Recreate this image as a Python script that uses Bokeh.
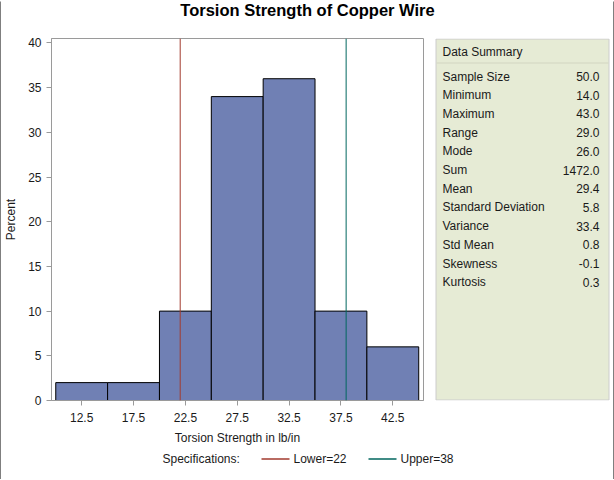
from bokeh.plotting import figure
from bokeh.layouts import column, row
from bokeh.models import Span, FixedTicker, Range1d
from bokeh.core.properties import value
from bokeh.embed import file_html
from bokeh.resources import INLINE

# ---- data ----
bin_midpoints = [12.5, 17.5, 22.5, 27.5, 32.5, 37.5, 42.5]
percents = [2, 2, 10, 34, 36, 10, 6]
bin_width = 5.0
lower_spec = 22
upper_spec = 38
y_ticks = [0, 5, 10, 15, 20, 25, 30, 35, 40]
summary_labels = ["Sample Size", "Minimum", "Maximum", "Range", "Mode", "Sum",
                  "Mean", "Standard Deviation", "Variance", "Std Mean",
                  "Skewness", "Kurtosis"]
summary_values = ["50.0", "14.0", "43.0", "29.0", "26.0", "1472.0",
                  "29.4", "5.8", "33.4", "0.8", "-0.1", "0.3"]

FONT = "Liberation Sans"
TXT = "#1a1a1a"
AX = "#9a9a9a"
LOWER_COL = "#A23A2E"
UPPER_COL = "#01665E"

# borders of the middle row (shared by histogram and summary panel)
B_TOP, B_BOTTOM = 10, 50
ROW_Y0 = 28            # canvas y where middle row starts
ROW_H = 422


def blank(w, h, fill="white", xr=None, yr=None, bt=0, bb=0):
    f = figure(width=w, height=h, output_backend="svg", toolbar_location=None,
               x_range=xr or Range1d(0, w), y_range=yr or Range1d(h, 0),
               x_axis_location=None, y_axis_location=None,
               min_border_left=0, min_border_right=0,
               min_border_top=bt, min_border_bottom=bb)
    f.grid.visible = False
    f.outline_line_color = None
    f.background_fill_color = fill
    f.border_fill_color = fill
    return f


# ---- border strips ----
top_strip = blank(614, 1, "black")
bottom_strip = blank(614, 1, "black")
left_strip = blank(1, 478, "black")
right_strip = blank(1, 478, "black")

# ---- title ----
title_fig = blank(612, 27)
title_fig.text(x=[306], y=[8.5], text=["Torsion Strength of Copper Wire"],
               text_align="center", text_baseline="middle",
               text_font=value(FONT), text_font_size="16.5px",
               text_font_style="bold", text_color="black")

# ---- main histogram ----
p = figure(width=429, height=ROW_H, output_backend="svg", toolbar_location=None,
           x_range=Range1d(9.59, 45.46), y_range=Range1d(0, 40.5),
           min_border_left=49, min_border_right=7,
           min_border_top=B_TOP, min_border_bottom=B_BOTTOM)
p.grid.visible = False
p.outline_line_color = AX
p.outline_line_width = 1

lefts = [m - bin_width / 2 for m in bin_midpoints]
rights = [m + bin_width / 2 for m in bin_midpoints]
p.quad(left=lefts, right=rights, bottom=0, top=percents,
       fill_color="#7080B4", line_color="black", line_width=1)

p.add_layout(Span(location=lower_spec, dimension="height", line_color=LOWER_COL, line_width=1))
p.add_layout(Span(location=upper_spec, dimension="height", line_color=UPPER_COL, line_width=1))

for ax in (p.xaxis[0], p.yaxis[0]):
    ax.axis_line_color = AX
    ax.major_tick_line_color = AX
    ax.minor_tick_line_color = None
    ax.major_tick_in = 0
    ax.major_tick_out = 5
    ax.major_label_text_font = FONT
    ax.major_label_text_font_size = "12px"
    ax.major_label_text_color = TXT
    ax.axis_label_text_font = FONT
    ax.axis_label_text_font_size = "12px"
    ax.axis_label_text_font_style = "normal"
    ax.axis_label_text_color = TXT

p.xaxis.ticker = FixedTicker(ticks=bin_midpoints)
p.xaxis.axis_label = "Torsion Strength in lb/in"
p.xaxis.major_label_standoff = 7
p.xaxis.axis_label_standoff = 6
p.yaxis.ticker = FixedTicker(ticks=y_ticks)
p.yaxis.axis_label = "Percent"
p.yaxis.major_label_standoff = 5
p.yaxis.axis_label_standoff = 7

# ---- data summary panel (ranges in canvas pixels of its frame) ----
fy0 = ROW_Y0 + B_TOP               # canvas y of frame top
fy1 = ROW_Y0 + ROW_H - B_BOTTOM    # canvas y of frame bottom
panel = blank(183, ROW_H, xr=Range1d(430, 613), yr=Range1d(fy1, fy0),
              bt=B_TOP, bb=B_BOTTOM)
panel.quad(left=[435.5], right=[608.5], top=[38.5], bottom=[399.5],
           fill_color="#E6EBD5", line_color="#CCCCCC", line_width=1)
panel.quad(left=[436], right=[608], top=[62], bottom=[63],
           fill_color="#D2D6C2", line_color=None)
panel.text(x=[442], y=[51], text=["Data Summary"], text_align="left",
           text_baseline="middle", text_font=value(FONT), text_font_size="12px",
           text_color=TXT)
rows_y = [76 + i * 18.7 for i in range(len(summary_labels))]
panel.text(x=[442] * len(summary_labels), y=rows_y, text=summary_labels,
           text_align="left", text_baseline="middle", text_font=value(FONT),
           text_font_size="12px", text_color=TXT)
panel.text(x=[599] * len(summary_values), y=rows_y, text=summary_values,
           text_align="right", text_baseline="middle", text_font=value(FONT),
           text_font_size="12px", text_color=TXT)

# ---- legend ----
leg = blank(612, 29)
leg.text(x=[161], y=[8], text=["Specifications:"], text_align="left",
         text_baseline="middle", text_font=value(FONT), text_font_size="12px",
         text_color=TXT)
leg.segment(x0=[260, 367], x1=[288, 395], y0=[8.5, 8.5], y1=[8.5, 8.5],
            line_color=[LOWER_COL, UPPER_COL], line_width=1.3)
leg.text(x=[292, 399], y=[8, 8], text=[f"Lower={lower_spec}", f"Upper={upper_spec}"],
         text_align="left", text_baseline="middle", text_font=value(FONT),
         text_font_size="12px", text_color=TXT)

inner = column(title_fig, row(p, panel), leg)
layout = column(top_strip, row(left_strip, inner, right_strip), bottom_strip)

open("out.html", "w").write(file_html(layout, INLINE))
